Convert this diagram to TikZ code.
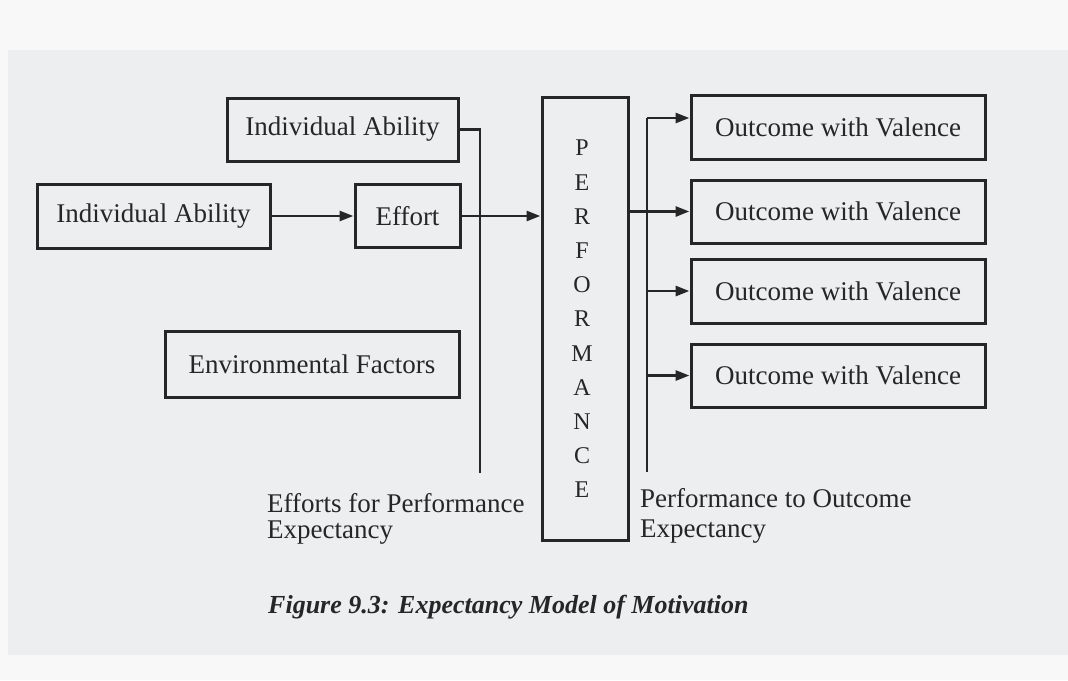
\documentclass[tikz,border=0pt]{standalone}
\usepackage{fontspec}
\setmainfont{Liberation Serif}
\usetikzlibrary{arrows.meta}
\definecolor{ink}{HTML}{262626}
\definecolor{paper}{HTML}{ECEEEF}
\definecolor{margin}{HTML}{F8F8F8}
\begin{document}
\begin{tikzpicture}[x=1pt,y=-1pt,
  box/.style={draw=ink, line width=3pt, inner sep=0pt, text=ink,
    font=\fontsize{27}{30}\selectfont},
  conn/.style={draw=ink, line width=2.8pt},
  arr/.style={conn, -{Triangle[length=14pt,width=10pt]}},
  lbl/.style={inner sep=0pt, anchor=north west, align=left, text=ink}]
  % page
  \fill[margin] (0,0) rectangle (1068,680);
  \fill[paper] (8,50) rectangle (1068,655);
  \useasboundingbox (0,0) rectangle (1068,680);

  % left-hand inputs
  \node[box, minimum width=231pt, minimum height=63pt] (ia1) at (342.5,129.5) {Individual Ability};
  \node[box, minimum width=233pt, minimum height=64pt] (ia2) at (153.5,216) {Individual Ability};
  \node[box, minimum width=105pt, minimum height=63pt] (effort) at (407.5,216) {Effort};
  \node[box, minimum width=294pt, minimum height=66pt] (env) at (312,364) {Environmental Factors};

  % performance column
  \node[box, minimum width=86pt, minimum height=443pt] (perf) at (585,318.5) {};
  \node[inner sep=0pt, align=center, text=ink, font=\fontsize{24}{34.2}\selectfont]
    (perftext) at (582,319) {P\\E\\R\\F\\O\\R\\M\\A\\N\\C\\E};

  % outcomes
  \node[box, minimum width=294pt, minimum height=64pt] (o1) at (838,127.5) {Outcome with Valence};
  \node[box, minimum width=294pt, minimum height=63pt] (o2) at (838,211.5) {Outcome with Valence};
  \node[box, minimum width=294pt, minimum height=64pt] (o3) at (838,291) {Outcome with Valence};
  \node[box, minimum width=294pt, minimum height=63pt] (o4) at (838,375.5) {Outcome with Valence};

  % expectancy lines
  \coordinate (effend) at (480,473);
  \coordinate (bt) at (647,118);
  \coordinate (bb) at (647,472);

  \draw[arr] (ia2.east) -- (effort.west);
  \draw[arr] (effort.east) -- (effort.east -| perf.west);
  \draw[conn] (ia1.east) -| (effend);

  \draw[conn] (bt) -- (bb);
  \draw[arr] (bt) -- (bt -| o1.west);
  \draw[arr] (perf.east |- o2.west) -- (o2.west);
  \draw[arr] (bt |- o3.west) -- (o3.west);
  \draw[arr] (bt |- o4.west) -- (o4.west);

  % labels
  \node[lbl, font=\fontsize{27}{26}\selectfont] (effexp) at (267,493.5)
    {Efforts for Performance\\Expectancy};
  \node[lbl, font=\fontsize{27}{30}\selectfont] (poexp) at (640,488.5)
    {Performance to Outcome\\Expectancy};

  % caption
  \node[anchor=base west, inner sep=0pt, text=ink,
    font=\fontsize{26}{28}\selectfont\bfseries\itshape] (caption) at (268,613)
    {Figure 9.3: Expectancy Model of Motivation};
\end{tikzpicture}
\end{document}
